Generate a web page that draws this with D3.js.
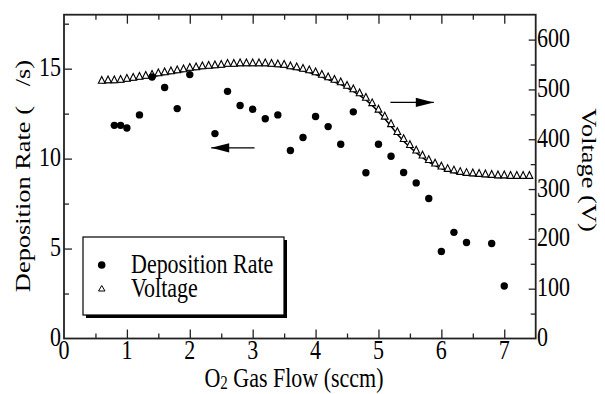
<!DOCTYPE html>
<html>
  <head>
    <meta charset="utf-8">
    <script src="https://d3js.org/d3.v7.min.js"></script>
    <style>
    body {
      margin: 0;
      background: #fff;
    }

    text {
      font-family: "Liberation Serif", "Times New Roman", serif;
      font-size: 22px;
      fill: #000;
    }

    .axis path,
    .axis line {
      stroke: #222;
    }
  </style>
  </head>
  <body>
    <svg id="chart" width="605" height="394"></svg>
    <script>
    // deposition rate (A/s) vs O2 flow
    var depFlow = [0.8, 0.9, 1.0, 1.2, 1.4, 1.6, 1.8, 2.0, 2.4, 2.6, 2.8, 3.0, 3.2, 3.4, 3.6, 3.8,
      4.0, 4.2, 4.4, 4.6, 4.8, 5.0, 5.2, 5.4, 5.6, 5.8, 6.0, 6.2, 6.4, 6.8, 7.0];
    var depRate = [11.85, 11.85, 11.7, 12.43, 14.54, 13.95, 12.78, 14.67, 11.39, 13.74, 12.95, 12.74, 12.22, 12.43, 10.45, 11.17,
      12.34, 11.78, 10.8, 12.6, 9.21, 10.8, 10.13, 9.23, 8.65, 7.78, 4.84, 5.9, 5.34, 5.28, 2.92];

    // discharge voltage (V)
    var voltFlow = [0.6, 0.7, 0.8, 0.9, 1.0, 1.1, 1.2, 1.3, 1.4, 1.5, 1.6, 1.7, 1.8, 1.9, 2.0, 2.1, 2.2, 2.3,
      2.4, 2.5, 2.6, 2.7, 2.8, 2.9, 3.0, 3.1, 3.2, 3.3, 3.4, 3.5, 3.6, 3.7, 3.8, 3.9, 4.0, 4.1, 4.2, 4.3,
      4.4, 4.5, 4.6, 4.7, 4.8, 4.9, 5.0, 5.1, 5.2, 5.3, 5.4, 5.5, 5.6, 5.7, 5.8, 5.9, 6.0, 6.1, 6.2, 6.3,
      6.4, 6.5, 6.6, 6.7, 6.8, 6.9, 7.0, 7.1, 7.2, 7.3, 7.4];
    var voltage = [513, 514, 514, 515, 517, 519, 521, 523, 525, 528, 530, 532, 534, 536, 539, 540, 542, 543,
      544, 545, 547, 547, 548, 548, 548, 548, 548, 547, 546, 545, 542, 540, 537, 534, 530, 525, 520, 515,
      510, 503, 496, 488, 479, 468, 455, 441, 426, 410, 396, 384, 373, 363, 354, 347, 341, 336, 333, 330,
      328, 327, 326, 325, 324, 323, 323, 322, 322, 322, 322];

    var xTicks = [0, 1, 2, 3, 4, 5, 6, 7];
    var leftTicks = [0, 5, 10, 15];
    var rightTicks = [0, 100, 200, 300, 400, 500, 600];
    var legendLabels = ["Deposition Rate", "Voltage"];

    var svg = d3.select("#chart");
    var sy = 1.2; // text in the source is drawn a bit tall

    var x = d3.scaleLinear().domain([0, 7.5]).range([64, 535.7]);
    var yL = d3.scaleLinear().domain([0, 18]).range([338.5, 14.7]);
    var yR = d3.scaleLinear().domain([0, 650]).range([338.5, 14.7]);

    function stretched(sel, tx, ty) {
      return sel.attr("transform", "translate(" + tx + "," + ty + ") scale(1," + sy + ")");
    }

    // ticks (inward), major + minor
    function addAxis(axis, tx, ty) {
      var g = svg.append("g").attr("class", "axis")
        .attr("transform", "translate(" + tx + "," + ty + ")")
        .call(axis);
      g.select(".domain").remove();
      g.selectAll("line").attr("stroke-width", 1.3);
      g.selectAll("text").remove();
    }
    var xMinor = d3.range(0.5, 7.5, 1);
    addAxis(d3.axisBottom(x).tickValues(xTicks.slice(1)).tickSize(-9), 0, 338.5);
    addAxis(d3.axisBottom(x).tickValues(xMinor).tickSize(-5), 0, 338.5);
    addAxis(d3.axisTop(x).tickValues(xTicks.slice(1)).tickSize(-9), 0, 14.7);
    addAxis(d3.axisTop(x).tickValues(xMinor).tickSize(-5), 0, 14.7);
    addAxis(d3.axisLeft(yL).tickValues(leftTicks.slice(1)).tickSize(-8), 64, 0);
    addAxis(d3.axisLeft(yL).tickValues([2.5, 7.5, 12.5, 17.5]).tickSize(-5), 64, 0);
    addAxis(d3.axisRight(yR).tickValues(rightTicks.slice(1)).tickSize(-7), 535.7, 0);
    addAxis(d3.axisRight(yR).tickValues([50, 150, 250, 350, 450, 550]).tickSize(-5), 535.7, 0);

    // frame
    svg.append("rect")
      .attr("x", 64).attr("y", 14.7)
      .attr("width", 535.7 - 64).attr("height", 338.5 - 14.7)
      .attr("fill", "none").attr("stroke", "#222").attr("stroke-width", 1.8);

    // tick labels
    svg.selectAll(".xlab").data(xTicks).enter().append("text")
      .attr("class", "xlab").attr("text-anchor", "middle")
      .each(function (d) { stretched(d3.select(this), x(d), 359); })
      .text(function (d) { return d; });
    svg.selectAll(".llab").data(leftTicks).enter().append("text")
      .attr("class", "llab").attr("text-anchor", "end")
      .each(function (d) { stretched(d3.select(this), 61, yL(d) + 7.5); })
      .text(function (d) { return d; });
    svg.selectAll(".rlab").data(rightTicks).enter().append("text")
      .attr("class", "rlab").attr("text-anchor", "start")
      .each(function (d) { stretched(d3.select(this), 537, yR(d) + 7.5); })
      .text(function (d) { return d; });

    // axis titles
    var xt = svg.append("text").attr("text-anchor", "middle");
    stretched(xt, 294, 387);
    xt.append("tspan").text("O");
    xt.append("tspan").attr("font-size", 15).attr("dy", 2).text("2");
    xt.append("tspan").attr("dy", -2).text(" Gas Flow (sccm)");

    svg.append("text")
      .attr("text-anchor", "middle")
      .attr("transform", "translate(30,176) scale(1," + sy + ") rotate(-90)")
      .text("Deposition Rate (\u00a0\u00a0\u00a0/s)");

    svg.append("text")
      .attr("text-anchor", "middle")
      .attr("transform", "translate(582,170) scale(1," + sy + ") rotate(90)")
      .text("Voltage (V)");

    // voltage line + triangles
    var vData = voltFlow.map(function (f, i) { return [f, voltage[i]]; });
    svg.append("path")
      .datum(vData)
      .attr("fill", "none").attr("stroke", "#000").attr("stroke-width", 1.5)
      .attr("d", d3.line().x(function (d) { return x(d[0]); }).y(function (d) { return yR(d[1]); }));

    function triangle(w, h) {
      return "M0,0 L" + (w / 2) + "," + (-h) + " L" + w + ",0 Z";
    }
    svg.selectAll(".tri").data(vData).enter().append("path")
      .attr("class", "tri")
      .attr("d", triangle(6.8, 6.8))
      .attr("transform", function (d) { return "translate(" + (x(d[0]) - 3.4) + "," + (yR(d[1]) + 0.3) + ")"; })
      .attr("fill", "#fff").attr("stroke", "#000").attr("stroke-width", 1.1);

    // deposition rate dots
    svg.selectAll(".dot").data(depFlow).enter().append("circle")
      .attr("class", "dot")
      .attr("cx", function (d) { return x(d); })
      .attr("cy", function (d, i) { return yL(depRate[i]); })
      .attr("r", 3.7)
      .attr("fill", "#000");

    // arrows pointing to the matching axis
    function arrow(x1, x2, yy, dir) {
      var g = svg.append("g");
      g.append("line").attr("x1", x1).attr("x2", x2).attr("y1", yy).attr("y2", yy)
        .attr("stroke", "#000").attr("stroke-width", 1.3);
      var tip = dir < 0 ? x1 : x2;
      g.append("path")
        .attr("d", "M" + tip + "," + yy + " L" + (tip - dir * 18) + "," + (yy - 4.6) +
          " L" + (tip - dir * 18) + "," + (yy + 4.6) + " Z")
        .attr("fill", "#000");
    }
    arrow(x(2.34), x(3.03), yL(10.6), -1);
    arrow(x(5.19), x(5.88), yR(474), 1);

    // legend
    var lg = svg.append("g");
    lg.append("rect").attr("x", 86).attr("y", 240).attr("width", 201).attr("height", 78).attr("fill", "#000");
    lg.append("rect").attr("x", 83).attr("y", 237).attr("width", 201).attr("height", 78)
      .attr("fill", "#fff").attr("stroke", "#000").attr("stroke-width", 1.2);
    lg.append("circle").attr("cx", 101.7).attr("cy", 265).attr("r", 3.8).attr("fill", "#000");
    lg.append("path").attr("d", triangle(6.5, 5.5))
      .attr("transform", "translate(98.5,291)")
      .attr("fill", "#fff").attr("stroke", "#000").attr("stroke-width", 1);
    lg.selectAll(".ltxt").data(legendLabels).enter().append("text")
      .attr("class", "ltxt")
      .each(function (d, i) { stretched(d3.select(this), 131, 273 + i * 23.7); })
      .text(function (d) { return d; });
  </script>
  </body>
</html>
